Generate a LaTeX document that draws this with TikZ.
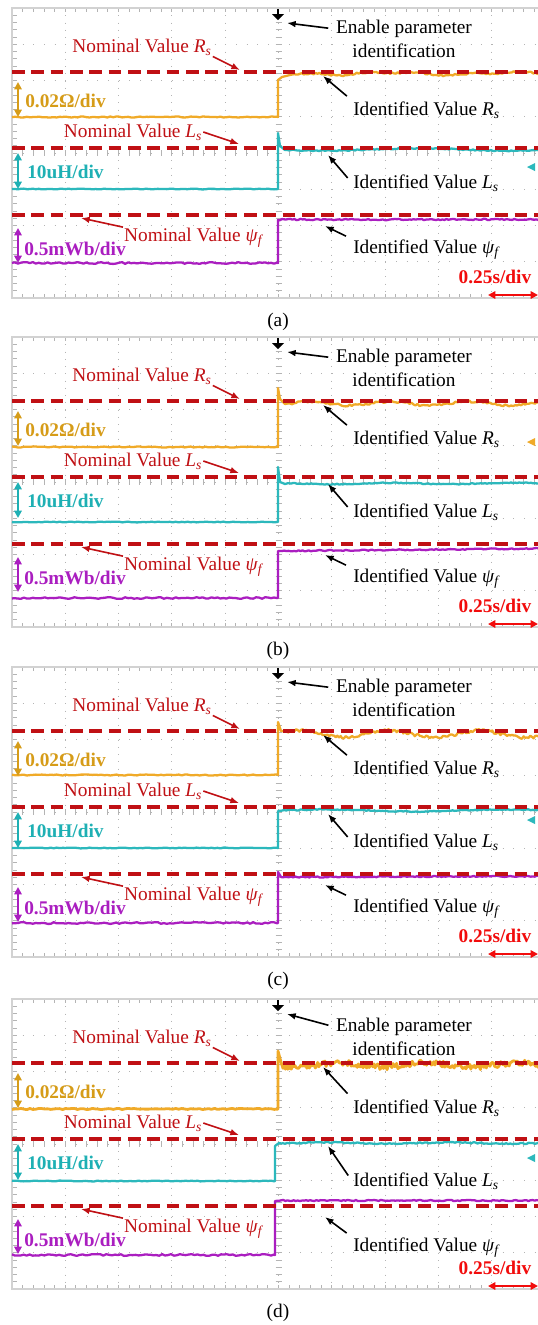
\documentclass[tikz,border=0pt]{standalone}
\usepackage{fontspec}
\setmainfont{Liberation Serif}
\usetikzlibrary{arrows.meta}

\definecolor{trOrange}{RGB}{240,170,40}
\definecolor{lbOrange}{RGB}{214,156,24}
\definecolor{trCyan}{RGB}{44,184,188}
\definecolor{lbCyan}{RGB}{30,176,180}
\definecolor{trPurple}{RGB}{170,30,192}
\definecolor{nomRed}{RGB}{192,16,20}
\definecolor{divRed}{RGB}{242,12,12}
\definecolor{gridGray}{RGB}{180,180,180}
\definecolor{frameGray}{RGB}{210,210,210}

\newcommand{\vsub}[2]{\textit{#1}\textsubscript{\textit{#2}}}

\tikzset{
  txt/.style={font=\fontsize{14.5}{17}\selectfont, inner sep=0.75pt},
  nomtxt/.style={txt, text=nomRed},
  divtxt/.style={txt, font=\fontsize{14.5}{17}\selectfont\bfseries},
  nomline/.style={draw=nomRed, line width=2.4pt, dash pattern={on 9.5pt off 5pt}},
  blkarrow/.style={-{Latex[length=6.5pt,width=5pt]}, line width=1.2pt, shorten <=5pt},
  redarrow/.style={-{Latex[length=6.5pt,width=5pt]}, line width=1.2pt, draw=nomRed},
  scalebar/.style={{Triangle[length=5.5pt,width=5.5pt]}-{Triangle[length=5.5pt,width=5.5pt]}, line width=1.5pt},
  trace/.style={line width=1.7pt, line join=round},
  gridv/.style={draw=gridGray, line width=0.7pt, dash pattern={on 0.8pt off 4.64pt}},
  gridh/.style={draw=gridGray, line width=0.7pt, dash pattern={on 0.8pt off 7.2pt}},
  tick/.style={draw=gridGray, line width=0.7pt},
}

\begin{document}
\begin{tikzpicture}[x=0.75pt,y=0.75pt,yscale=-1,xscale=1]
  \useasboundingbox (0,0) rectangle (538,1325);
  \fill[white] (0,0) rectangle (538,1325);
  \pgfmathsetseed{7}

  %Screens and grids
  \foreach \T in {8,337,667,999}{
    \begin{scope}[shift={(0,\T)}]
      \foreach \k in {1,...,9}
        \draw[gridv] ({12+53.3*\k},0) -- ({12+53.3*\k},290);
      \foreach \k in {1,...,7}
        \draw[gridh] (12,{36.25*\k}) -- (545,{36.25*\k});
      \foreach \k in {1,...,39}{
        \draw[tick] (12,{7.25*\k}) -- (17,{7.25*\k});
        \draw[tick] (275.5,{7.25*\k}) -- (281.5,{7.25*\k});
      }
      \foreach \k in {1,...,49}{
        \draw[tick] ({12+10.66*\k},0) -- ++(0,4);
        \draw[tick] ({12+10.66*\k},290) -- ++(0,-4);
        \draw[tick] ({12+10.66*\k},142) -- ++(0,6);
      }
      \draw[frameGray, line width=1.8pt] (12,0) rectangle (560,290);
    \end{scope}
  }

  %Traces (a)
  \draw[trace, trOrange] plot[domain=12:277, samples=90] (\x,{117+0.5*rand}) -- (278,117) -- (278,80) -- (282,77) -- (290,75) -- plot[domain=292:545, samples=130] (\x,{73.5-1.2*sin(3*\x)-0.8*sin(7*\x+40)+0.9*rand});
  \draw[trace, trCyan] plot[domain=12:277, samples=90] (\x,{189+0.4*rand}) -- (278,189) -- (278,133) -- (280,146) -- (285,150) -- plot[domain=287:545, samples=130] (\x,{149.5+1.2*sin(2*\x-200)+0.6*rand});
  \draw[trace, trPurple] plot[domain=12:277, samples=90] (\x,{263+0.9*rand}) -- (278,263) -- (278,220) -- plot[domain=280:545, samples=130] (\x,{219.5+0.7*rand});
  \fill[trCyan] (527,167) -- (535,163) -- (535,171) -- cycle;

  %Traces (b)
  \draw[trace, trOrange] plot[domain=12:277, samples=90] (\x,{447+0.5*rand}) -- (278,447) -- (278,388) -- (280,399) -- (285,404) -- plot[domain=288:545, samples=130] (\x,{403.5+2*sin(4.5*(\x-330))+1.1*rand});
  \draw[trace, trCyan] plot[domain=12:277, samples=90] (\x,{522+0.4*rand}) -- (278,522) -- (278,467) -- (280,482) -- (285,484) -- plot[domain=287:545, samples=130] (\x,{483.5-0.7*sin(3*\x)+0.5*rand});
  \draw[trace, trPurple] plot[domain=12:277, samples=90] (\x,{598+0.8*rand}) -- (278,598) -- (278,551) -- plot[domain=280:545, samples=130] (\x,{551-2.5*(\x-280)/265+0.6*rand});
  \fill[trOrange] (527,442) -- (535,438) -- (535,446) -- cycle;

  %Traces (c)
  \draw[trace, trOrange] plot[domain=12:277, samples=90] (\x,{775+0.5*rand}) -- (278,775) -- (278,722) -- (281,731) -- plot[domain=283:545, samples=160] (\x,{734+3.5*sin(4*(\x-322))+1.5*rand});
  \draw[trace, trCyan] plot[domain=12:277, samples=90] (\x,{848+0.4*rand}) -- (278,848) -- (278,811) -- plot[domain=280:545, samples=130] (\x,{810.5-1*sin(2*(\x-280))+0.5*rand});
  \draw[trace, trPurple] plot[domain=12:277, samples=90] (\x,{923+0.9*rand}) -- (278,923) -- (278,872) -- (281,877) -- plot[domain=283:545, samples=130] (\x,{877-0.8*(\x-283)/262+0.6*rand});
  \fill[trCyan] (527,820) -- (535,816) -- (535,824) -- cycle;

  %Traces (d)
  \draw[trace, trOrange, line width=2.1pt] plot[domain=12:277, samples=90] (\x,{1109+0.6*rand}) -- (278,1109) -- (278,1051) -- (281,1062) -- plot[domain=283:545, samples=220] (\x,{1065+2*sin(4*\x)+3*rand});
  \draw[trace, trCyan] plot[domain=12:274, samples=90] (\x,{1181+0.4*rand}) -- (275,1181) -- (275,1146) -- (279,1143) -- plot[domain=281:545, samples=130] (\x,{1143+0.6*sin(3*\x)+0.6*rand});
  \draw[trace, trPurple] plot[domain=12:274, samples=90] (\x,{1255+0.9*rand}) -- (275,1255) -- (275,1201) -- plot[domain=277:545, samples=130] (\x,{1200.5+0.6*rand});
  \fill[trCyan] (527,1158) -- (535,1154) -- (535,1162) -- cycle;

  %Nominal lines, labels and arrows
  \foreach \T/\lbl/\dE/\dI in {8/a/0/0,337/b/0/0,667/c/0/0,999/d/7/7}{
    \begin{scope}[shift={(0,\T)}]
      \draw[nomline] (12,64) -- (545,64);
      \draw[nomline] (12,140) -- (545,140);
      \draw[nomline] (12,207) -- (545,207);
      % trigger mark
      \fill (272,6) -- (284,6) -- (278,12) -- cycle;
      \draw[line width=1pt] (278,1) -- (278,8);

      % Text Node
      \node[nomtxt] (nomR-\lbl) at (142,39) {Nominal Value \vsub{R}{s}};
      \node[nomtxt] (nomL-\lbl) at (133,124) {Nominal Value \vsub{L}{s}};
      \node[nomtxt] (nomP-\lbl) at (194,230) {Nominal Value \vsub{ψ}{f}};
      \node[txt] (en1-\lbl) at (404,{21+\dE}) {Enable parameter};
      \node[txt] (en2-\lbl) at (404,{43+\dE}) {identification};
      \node[txt, anchor=west] (idR-\lbl) at (352,{102+\dI}) {Identified Value \vsub{R}{s}};
      \node[txt, anchor=west] (idL-\lbl) at (352,{175+\dI}) {Identified Value \vsub{L}{s}};
      \node[txt, anchor=west] (idP-\lbl) at (352,{242+\dI}) {Identified Value \vsub{ψ}{f}};
      \node[divtxt, text=lbOrange, anchor=west] (divR-\lbl) at (24,93) {0.02Ω/div};
      \node[divtxt, text=lbCyan, anchor=west] (divL-\lbl) at (26,164) {10uH/div};
      \node[divtxt, text=trPurple, anchor=west] (divP-\lbl) at (23,241) {0.5mWb/div};
      \node[divtxt, text=divRed] (divT-\lbl) at (495,269) {0.25s/div};
      \node[txt] (cap-\lbl) at (278,314) {(\lbl)};

      \coordinate (hEn-\lbl) at (287,15);
      \coordinate (hNR-\lbl) at (240,62);
      \coordinate (hNL-\lbl) at (239,136);
      \coordinate (hNP-\lbl) at (81,210);
      \coordinate (hIR-\lbl) at (323,68);
      \coordinate (hIL-\lbl) at (328,147);
      \coordinate (hIP-\lbl) at (325,218);

      \draw[blkarrow] (en1-\lbl.west) -- (hEn-\lbl);
      \draw[redarrow] (nomR-\lbl.south east) -- (hNR-\lbl);
      \draw[redarrow] (nomL-\lbl.east) -- (hNL-\lbl);
      \draw[redarrow] (nomP-\lbl.north west) -- (hNP-\lbl);
      \draw[blkarrow] (idR-\lbl.north west) -- (hIR-\lbl);
      \draw[blkarrow] (idL-\lbl.west) -- (hIL-\lbl);
      \draw[blkarrow] (idP-\lbl.north west) -- (hIP-\lbl);

      % scale bars
      \draw[scalebar, lbOrange] (18,74) -- (18,109);
      \draw[scalebar, lbCyan] (18,145) -- (18,181);
      \draw[scalebar, trPurple] (18,220) -- (18,255);
      \draw[scalebar, divRed] (488,287) -- (538,287);
    \end{scope}
  }
\end{tikzpicture}
\end{document}
